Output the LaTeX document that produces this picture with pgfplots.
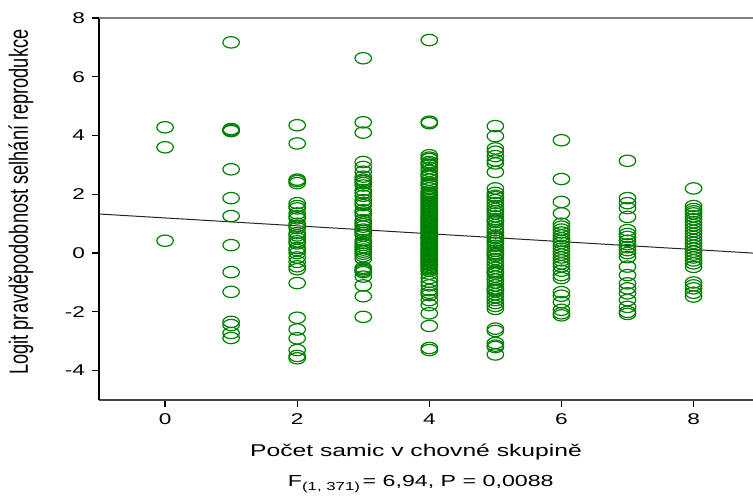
\documentclass[border=0pt]{standalone}
\usepackage{graphicx}
\usepackage{fontspec}
\setmainfont{Liberation Sans}[FakeStretch=1.45]
\newfontfamily\ylfont{Liberation Sans}
\usepackage{pgfplots}
\pgfplotsset{compat=1.18}
\definecolor{ptgreen}{RGB}{0,128,0}
\definecolor{topgray}{RGB}{128,128,128}
\definecolor{botgray}{RGB}{70,70,70}
\begin{document}
\begin{tikzpicture}
\begin{axis}[
  scale only axis,
  width=327bp, height=191bp,
  xmin=-1, xmax=8.9, ymin=-5, ymax=8,
  axis x line*=bottom, axis y line*=left,
  x axis line style={draw=botgray, line width=0.7bp, -},
  y axis line style={draw=black, line width=0.7bp, -},
  xtick={0,2,4,6,8}, ytick={-4,-2,0,2,4,6,8},
  tick align=outside, major tick length=3.5bp,
  tick style={black, line width=0.6bp},
  /pgf/number format/assume math mode=true,
  ticklabel style={font=\fontsize{7.8bp}{9bp}\selectfont},
  xlabel={Počet samic v chovné skupině},
  xlabel style={at={(axis description cs:0.4847,-0.1361)}, anchor=center, font=\fontsize{8.5bp}{10bp}\selectfont},
  ylabel={\scalebox{1}[1.45]{\ylfont\fontsize{9.1bp}{10bp}\selectfont Logit pravděpodobnost selhání reprodukce}},
  ylabel style={at={(axis description cs:-0.1193,0.518)}, anchor=center, rotate=0},
  clip=false,
]
\draw[topgray, line width=0.8bp] (rel axis cs:0,1) -- (rel axis cs:1,1);
\addplot[only marks, mark=o, mark size=2.85bp, mark options={xscale=1.45, line width=0.6bp, draw=ptgreen, fill=none}] coordinates {
(0,4.28)(0,3.6)(0,0.42)
(1,7.17)(1,4.22)(1,4.18)(1,4.15)(1,2.85)(1,1.87)(1,1.26)(1,0.27)(1,-0.65)(1,-1.32)(1,-2.34)(1,-2.45)(1,-2.72)(1,-2.89)
(2,4.35)(2,3.73)(2,2.5)(2,2.45)(2,2.38)(2,1.7)(2,1.6)(2,1.52)(2,1.35)(2,1.25)(2,1.18)(2,1.0)(2,0.92)(2,0.85)(2,0.68)(2,0.6)(2,0.5)(2,0.4)(2,0.33)(2,0.17)(2,0.1)(2,0.0)(2,-0.15)(2,-0.3)(2,-0.45)(2,-0.55)(2,-1.02)(2,-2.2)(2,-2.6)(2,-2.9)(2,-3.3)(2,-3.5)(2,-3.58)
(3,6.63)(3,4.45)(3,4.1)(3,3.1)(3,2.93)(3,2.77)(3,2.6)(3,2.5)(3,2.45)(3,2.38)(3,2.3)(3,2.14)(3,2.05)(3,1.95)(3,1.8)(3,1.7)(3,1.63)(3,1.46)(3,1.38)(3,1.29)(3,1.12)(3,1.05)(3,0.98)(3,0.9)(3,0.8)(3,0.75)(3,0.68)(3,0.6)(3,0.44)(3,0.35)(3,0.28)(3,0.2)(3,0.12)(3,0.05)(3,-0.02)(3,-0.1)(3,-0.2)(3,-0.5)(3,-0.55)(3,-0.6)(3,-0.65)(3,-0.8)(3,-1.1)(3,-1.47)(3,-2.17)
(4,7.25)(4,4.47)(4,4.42)(4,3.33)(4,3.25)(4,3.2)(4,3.1)(4,3.05)(4,3.0)(4,2.9)(4,2.8)(4,2.7)(4,2.65)(4,2.6)(4,2.5)(4,2.4)(4,2.35)(4,2.3)(4,2.2)(4,2.1)(4,2.05)(4,2.0)(4,1.95)(4,1.9)(4,1.85)(4,1.8)(4,1.75)(4,1.7)(4,1.65)(4,1.6)(4,1.55)(4,1.5)(4,1.45)(4,1.4)(4,1.35)(4,1.3)(4,1.25)(4,1.2)(4,1.15)(4,1.12)(4,1.1)(4,1.05)(4,1.0)(4,0.95)(4,0.92)(4,0.9)(4,0.85)(4,0.8)(4,0.75)(4,0.72)(4,0.7)(4,0.65)(4,0.6)(4,0.55)(4,0.52)(4,0.5)(4,0.45)(4,0.4)(4,0.35)(4,0.32)(4,0.3)(4,0.25)(4,0.2)(4,0.15)(4,0.12)(4,0.1)(4,0.05)(4,0.0)(4,-0.05)(4,-0.08)(4,-0.1)(4,-0.15)(4,-0.2)(4,-0.25)(4,-0.28)(4,-0.3)(4,-0.35)(4,-0.38)(4,-0.4)(4,-0.45)(4,-0.5)(4,-0.55)(4,-0.6)(4,-0.7)(4,-0.85)(4,-0.98)(4,-1.1)(4,-1.26)(4,-1.35)(4,-1.43)(4,-1.6)(4,-1.77)(4,-2.05)(4,-2.48)(4,-3.23)(4,-3.3)
(5,4.32)(5,3.98)(5,3.56)(5,3.45)(5,3.3)(5,3.15)(5,3.05)(5,2.76)(5,2.2)(5,2.05)(5,1.95)(5,1.9)(5,1.8)(5,1.7)(5,1.6)(5,1.5)(5,1.42)(5,1.35)(5,1.25)(5,1.15)(5,1.1)(5,1.05)(5,0.95)(5,0.85)(5,0.78)(5,0.7)(5,0.6)(5,0.55)(5,0.5)(5,0.42)(5,0.35)(5,0.25)(5,0.15)(5,0.08)(5,0.0)(5,-0.05)(5,-0.1)(5,-0.2)(5,-0.3)(5,-0.4)(5,-0.5)(5,-0.6)(5,-0.65)(5,-0.7)(5,-0.8)(5,-0.9)(5,-1.0)(5,-1.1)(5,-1.2)(5,-1.25)(5,-1.3)(5,-1.4)(5,-1.5)(5,-1.6)(5,-1.7)(5,-1.8)(5,-1.9)(5,-2.57)(5,-2.65)(5,-3.06)(5,-3.15)(5,-3.2)(5,-3.45)
(6,3.84)(6,2.52)(6,1.74)(6,1.35)(6,1.0)(6,0.9)(6,0.8)(6,0.7)(6,0.6)(6,0.5)(6,0.42)(6,0.35)(6,0.25)(6,0.15)(6,0.05)(6,-0.05)(6,-0.15)(6,-0.25)(6,-0.35)(6,-0.45)(6,-0.6)(6,-0.75)(6,-0.85)(6,-1.33)(6,-1.45)(6,-1.67)(6,-1.93)(6,-2.05)(6,-2.12)
(7,3.14)(7,1.87)(7,1.7)(7,1.53)(7,1.23)(7,0.78)(7,0.65)(7,0.55)(7,0.42)(7,0.3)(7,0.2)(7,0.1)(7,0.0)(7,-0.14)(7,-0.46)(7,-0.75)(7,-1.03)(7,-1.2)(7,-1.37)(7,-1.6)(7,-1.83)(7,-2.0)(7,-2.07)
(8,2.2)(8,1.6)(8,1.5)(8,1.42)(8,1.35)(8,1.25)(8,1.15)(8,1.05)(8,0.95)(8,0.85)(8,0.75)(8,0.65)(8,0.55)(8,0.45)(8,0.35)(8,0.25)(8,0.15)(8,0.05)(8,-0.05)(8,-0.15)(8,-0.25)(8,-0.35)(8,-0.47)(8,-1.0)(8,-1.1)(8,-1.2)(8,-1.35)(8,-1.48)
};
\addplot[black!85, line width=0.5bp, no marks] coordinates {(-1,1.33) (8.9,0.0)};
\node[font=\fontsize{8bp}{10bp}\selectfont, anchor=center] at (axis description cs:0.492,-0.2199) {F\raisebox{-0.45ex}{\fontsize{5.8bp}{7bp}\selectfont(1, 371)}\,= 6,94, P = 0,0088};
\coordinate (bl) at (rel axis cs:0,0);
\coordinate (tr) at (rel axis cs:1,1);
\end{axis}
\pgfresetboundingbox
\path ([xshift=-49.5bp,yshift=-47.5bp]bl) rectangle ([yshift=9bp]tr);
\end{tikzpicture}
\end{document}
